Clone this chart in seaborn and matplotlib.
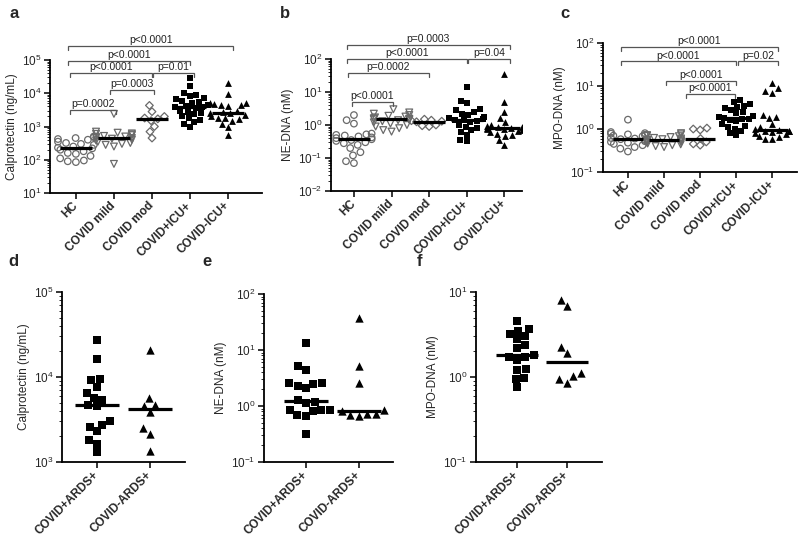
import numpy as np
import pandas as pd
import matplotlib
matplotlib.use("Agg")
import matplotlib.pyplot as plt
from matplotlib.ticker import LogLocator, NullFormatter
import seaborn as sns

# ---------------- data ----------------
groups5 = ["HC", "COVID mild", "COVID mod", "COVID+ICU+", "COVID-ICU+"]
groups2 = ["COVID+ARDS+", "COVID-ARDS+"]

calpro_hc = [500, 480, 450, 420, 400, 350, 320, 300, 280, 250, 230, 220, 200, 180, 160, 150, 130, 110, 95, 90, 85]
calpro_mild = [2400, 700, 650, 620, 600, 580, 550, 520, 500, 480, 460, 450, 430, 400, 380, 350, 320, 300, 280, 250, 75]
calpro_mod = [4300, 2800, 2000, 1800, 1700, 1500, 1000, 700, 450]
calpro_icu_pos = [28000, 17000, 10000, 9000, 8000, 7000, 6500, 6000, 5500, 5000, 4500, 4200, 3900,
                  3800, 3500, 3000, 2800, 2500, 2300, 2000, 1800, 1600, 1400, 1200, 1000]
calpro_icu_neg = [20000, 9500, 5000, 5000, 4800, 4500, 4500, 4000, 3000, 2800, 2600, 2500, 2200,
                  2000, 1800, 1800, 1700, 1500, 1200, 1000, 550]

nedna_hc = [2.0, 1.4, 1.1, 0.55, 0.52, 0.5, 0.48, 0.45, 0.42, 0.4, 0.37, 0.35, 0.33, 0.3, 0.28,
            0.25, 0.2, 0.15, 0.12, 0.08, 0.07]
nedna_mild = [3.0, 2.4, 2.2, 2.0, 1.9, 1.8, 1.7, 1.6, 1.55, 1.5, 1.48, 1.45, 1.4, 1.3, 1.2, 1.1,
              1.0, 0.9, 0.8, 0.7, 0.63]
nedna_mod = [1.5, 1.4, 1.35, 1.3, 1.25, 1.0, 0.95, 0.9]
nedna_icu_pos = [14, 5.5, 4.5, 3.0, 2.8, 2.5, 2.2, 2.0, 1.8, 1.6, 1.5, 1.42, 1.4, 1.3, 1.2, 1.0,
                 0.9, 0.8, 0.7, 0.6, 0.5, 0.35, 0.32]
nedna_icu_neg = [35, 5.0, 2.5, 1.6, 1.2, 1.0, 0.95, 0.9, 0.85, 0.82, 0.8, 0.78, 0.75, 0.7, 0.65,
                 0.6, 0.55, 0.5, 0.45, 0.35, 0.25]

mpo_hc = [1.65, 0.85, 0.8, 0.78, 0.75, 0.72, 0.7, 0.68, 0.62, 0.6, 0.58, 0.55, 0.52, 0.5, 0.48,
          0.45, 0.42, 0.38, 0.35, 0.3]
mpo_mild = [0.8, 0.75, 0.72, 0.7, 0.68, 0.65, 0.62, 0.6, 0.58, 0.56, 0.55, 0.54, 0.52, 0.5, 0.49,
            0.48, 0.46, 0.44, 0.42, 0.4, 0.38]
mpo_mod = [1.05, 1.0, 0.95, 0.6, 0.5, 0.45, 0.42]
mpo_icu_pos = [4.8, 4.2, 3.8, 3.5, 3.2, 3.0, 2.8, 2.5, 2.3, 2.0, 1.9, 1.8, 1.75, 1.7, 1.6, 1.5,
               1.3, 1.2, 1.1, 1.0, 0.9, 0.8, 0.72]
mpo_icu_neg = [12, 9, 7.5, 7.0, 2.1, 1.9, 1.8, 1.3, 1.1, 1.0, 0.95, 0.92, 0.9, 0.88, 0.85, 0.8,
               0.75, 0.7, 0.65, 0.6, 0.58]

calpro_ards_pos = [27000, 16500, 9600, 9100, 7700, 6500, 5600, 5400, 4700, 4500, 3000, 2750, 2600,
                   2300, 1800, 1650, 1300]
calpro_ards_neg = [20800, 5600, 4700, 4600, 3900, 2500, 2150, 1350]
nedna_ards_pos = [13.6, 5.1, 4.4, 2.6, 2.55, 2.5, 2.3, 2.1, 1.3, 1.2, 1.15, 0.86, 0.85, 0.84,
                  0.82, 0.7, 0.66, 0.31]
nedna_ards_neg = [37, 5.2, 2.6, 0.85, 0.8, 0.72, 0.72, 0.7, 0.65]
mpo_ards_pos = [4.6, 3.7, 3.5, 3.2, 3.0, 2.8, 2.35, 2.2, 1.8, 1.7, 1.7, 1.6, 1.25, 1.2, 0.97,
                0.95, 0.76]
mpo_ards_neg = [8.1, 6.9, 2.23, 1.9, 1.1, 1.02, 0.94, 0.86]

# significance brackets: (x_start, x_end, y, label)  (x in category index units)
brackets_a = [(-0.2, 4.13, 10**5.42, "p<0.0001"), (-0.2, 3.0, 10**4.98, "p<0.0001"),
              (-0.16, 1.99, 10**4.6, "p<0.0001"), (2.03, 3.1, 10**4.6, "p=0.01"),
              (0.9, 2.05, 10**4.1, "p=0.0003"), (-0.16, 1.05, 10**3.5, "p=0.0002")]
brackets_b = [(-0.19, 4.15, 10**2.42, "p=0.0003"), (-0.19, 3.0, 10**1.99, "p<0.0001"),
              (3.04, 4.15, 10**1.99, "p=0.04"), (-0.16, 2.0, 10**1.58, "p=0.0002"),
              (-0.06, 1.05, 10**0.71, "p<0.0001")]
brackets_c = [(-0.2, 4.15, 10**1.9, "p<0.0001"), (-0.2, 3.0, 10**1.57, "p<0.0001"),
              (3.05, 4.15, 10**1.57, "p=0.02"), (1.05, 3.0, 10**1.12, "p<0.0001"),
              (1.6, 2.95, 10**0.81, "p<0.0001")]

# ---------------- style ----------------
sns.set_style("white")
plt.rcParams["font.family"] = ["Liberation Sans", "DejaVu Sans"]
plt.rcParams["mathtext.fontset"] = "custom"
plt.rcParams["mathtext.rm"] = "Liberation Sans"
plt.rcParams["axes.linewidth"] = 1.2

W, H = 800, 539
fig = plt.figure(figsize=(8, 5.39), dpi=100)


def add_ax(l, t, r, b):
    return fig.add_axes([l / W, 1 - b / H, (r - l) / W, (b - t) / H])


OPEN_EDGE = "#6a6a6a"
styles5 = [("o", False, 4.7), ("v", False, 4.9), ("D", False, 3.9), ("s", True, 4.5), ("^", True, 4.9)]
styles2 = [("s", True, 6.0), ("^", True, 6.0)]

S = 0.85  # axis units between neighbouring categories (swarm width = 0.8 axis units)


def panel(ax, groups, values, styles, ylim, xlim, ylabel, brackets=None):
    ax.set_yscale("log")
    ax.set_ylim(ylim)
    for i, (g, vals, (mk, filled, sz)) in enumerate(zip(groups, values, styles)):
        df = pd.DataFrame({"pos": [i * S] * len(vals), "value": vals})
        n0 = len(ax.collections)
        sns.swarmplot(data=df, x="pos", y="value", native_scale=True, orient="x", ax=ax,
                      marker=mk, size=sz,
                      color="black" if filled else "white",
                      edgecolor="black" if filled else OPEN_EDGE,
                      linewidth=0 if filled else 0.9, warn_thresh=1, zorder=3)
        if not filled:
            for c in ax.collections[n0:]:
                c.set_facecolor("none")
        ax.hlines(np.median(vals), (i - 0.42) * S, (i + 0.42) * S, color="black", lw=2.3, zorder=6)
    ax.set_yscale("log")
    ax.set_ylim(ylim)
    ax.set_xlim(xlim[0] * S, xlim[1] * S)
    sns.despine(ax=ax)
    ax.set_xlabel("")
    ax.set_ylabel(ylabel, fontsize=8.5, labelpad=3)
    ax.set_xticks([i * S for i in range(len(groups))])
    ax.set_xticklabels(groups, rotation=45, ha="right", va="center", rotation_mode="anchor",
                       fontsize=7, fontweight="bold")
    ax.yaxis.set_major_locator(LogLocator(base=10, numticks=20))
    ax.yaxis.set_minor_locator(LogLocator(base=10, subs=np.arange(2, 10), numticks=100))
    ax.yaxis.set_minor_formatter(NullFormatter())
    ax.xaxis.set_minor_locator(matplotlib.ticker.NullLocator())
    ax.tick_params(axis="both", which="major", direction="out", length=4, width=1.1,
                   left=True, bottom=True, labelsize=8.5, color="black", pad=2)
    ax.tick_params(axis="x", pad=4)
    ax.tick_params(axis="y", which="minor", direction="out", length=2, width=0.7, left=True)
    for sp in ["left", "bottom"]:
        ax.spines[sp].set_color("black")
        ax.spines[sp].set_linewidth(1.3)
    if brackets:
        for x1, x2, y, lab in brackets:
            drop = 10 ** (np.log10(ylim[1] / ylim[0]) * 4.0 / (ax.get_position().height * H))
            ax.plot([x1 * S, x1 * S, x2 * S, x2 * S], [y / drop, y, y, y / drop], color="#555555",
                    lw=0.9, clip_on=False, solid_joinstyle="miter", zorder=5)
            ax.annotate(lab, xy=((x1 + x2) / 2 * S, y), xytext=(0, 0.6), textcoords="offset points",
                        ha="center", va="bottom", fontsize=7.5, color="#222222",
                        annotation_clip=False)


ax_a = add_ax(50, 60, 262, 193)
panel(ax_a, groups5, [calpro_hc, calpro_mild, calpro_mod, calpro_icu_pos, calpro_icu_neg],
      styles5, (1e1, 1e5), (-0.68, 4.89), "Calprotectin (ng/mL)", brackets_a)

ax_b = add_ax(331, 59, 522, 191)
panel(ax_b, groups5, [nedna_hc, nedna_mild, nedna_mod, nedna_icu_pos, nedna_icu_neg],
      styles5, (1e-2, 1e2), (-0.61, 4.47), "NE-DNA (nM)", brackets_b)

ax_c = add_ax(603, 43, 797, 172)
panel(ax_c, groups5, [mpo_hc, mpo_mild, mpo_mod, mpo_icu_pos, mpo_icu_neg],
      styles5, (1e-1, 1e2), (-0.69, 4.68), "MPO-DNA (nM)", brackets_c)

ax_d = add_ax(62, 292, 185, 462)
panel(ax_d, groups2, [calpro_ards_pos, calpro_ards_neg], styles2, (1e3, 1e5), (-0.66, 1.66),
      "Calprotectin (ng/mL)")

ax_e = add_ax(264, 294, 393, 462)
panel(ax_e, groups2, [nedna_ards_pos, nedna_ards_neg], styles2, (1e-1, 1e2), (-0.79, 1.64),
      "NE-DNA (nM)")

ax_f = add_ax(476, 292, 602, 462)
panel(ax_f, groups2, [mpo_ards_pos, mpo_ards_neg], styles2, (1e-1, 1e1), (-0.82, 1.7),
      "MPO-DNA (nM)")

for lab, x, y in [("a", 9, 6), ("b", 280, 6), ("c", 560, 6), ("d", 8, 254), ("e", 202, 254),
                  ("f", 417, 254)]:
    fig.text(x / W, 1 - y / H, lab, fontsize=12, fontweight="bold", ha="left", va="top")

fig.savefig("out.png", dpi=100)
